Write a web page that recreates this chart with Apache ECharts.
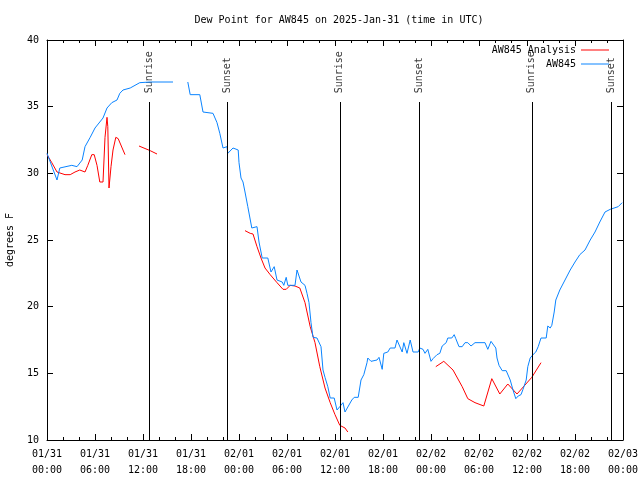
<!DOCTYPE html>
<html><head><meta charset="utf-8">
<script src="https://cdn.jsdelivr.net/npm/echarts@6/dist/echarts.min.js"></script>
<style>html,body{margin:0;padding:0;background:#fff}#c{width:640px;height:480px}</style>
</head><body><div id="c"></div>
<script>
// ---- data (hours since 2025-01-31 00:00 UTC, dew point in degrees F) ----
const dayLabels = ['01/31','02/01','02/02','02/03'];
const awHours = [0.0,1.25,1.6,3.1,3.75,4.4,4.75,5.4,6.0,7.0,7.5,8.1,8.75,9.1,9.5,10.4,11.6,12.9,15.75,16.6,
17.6,17.9,19.1,19.5,20.75,21.25,21.6,22.0,22.5,22.6,23.25,23.9,24.0,24.25,24.5,24.75,25.1,25.6,26.25,26.5,
26.9,27.6,28.0,28.4,28.75,29.4,29.6,29.9,30.1,31.0,31.25,31.4,31.75,32.25,32.5,32.75,33.0,33.25,33.75,34.0,
34.25,34.5,34.75,35.1,35.4,35.9,36.25,36.6,37.0,37.25,37.5,38.1,38.4,38.9,39.25,39.6,40.0,40.1,40.5,41.25,
41.5,41.9,42.1,42.6,42.9,43.5,43.75,44.0,44.4,44.6,45.0,45.4,45.75,46.4,46.6,47.0,47.25,47.6,48.0,48.25,
48.75,49.1,49.4,49.9,50.1,50.6,50.9,51.1,51.5,51.9,52.25,52.6,53.0,53.25,53.5,54.75,55.1,55.5,55.75,56.1,
56.25,56.5,56.9,57.4,57.9,58.25,58.6,58.9,59.25,59.5,59.9,60.1,60.4,60.75,61.1,61.4,61.75,62.4,62.6,62.9,
63.1,63.4,63.6,64.1,64.75,65.4,66.0,66.6,67.25,67.9,68.5,69.1,69.75,70.4,71.4,71.9];
const awDew = [31.5,29.5,30.4,30.6,30.5,31.0,32.0,32.7,33.4,34.15,34.9,35.3,35.5,36.0,36.25,36.4,36.8,36.85,36.85,null,
36.85,35.9,35.9,34.6,34.5,33.8,33.0,31.9,32.0,31.5,31.9,31.75,30.8,29.65,29.35,28.6,27.5,25.9,26.0,24.85,
23.65,23.65,22.6,23.0,22.0,21.85,21.6,22.2,21.6,21.6,22.75,22.75,21.85,21.6,21.0,20.3,18.8,17.7,17.65,17.7,
17.0,15.25,14.7,14.0,13.15,13.15,12.25,12.5,12.8,12.1,12.25,13.0,13.2,13.2,14.5,14.9,15.8,16.15,15.9,16.0,
16.2,15.3,16.5,16.6,16.9,16.9,17.5,17.35,16.6,17.3,16.5,17.5,16.6,16.6,16.9,16.8,16.5,16.8,15.9,16.1,
16.4,16.5,17.05,17.3,17.65,17.65,17.9,17.6,17.0,17.0,17.3,17.3,17.05,17.1,17.3,17.3,16.8,17.4,17.35,16.9,
16.15,15.6,15.2,15.2,14.5,13.75,13.1,13.3,13.4,13.8,14.5,15.5,16.15,16.4,16.6,17.0,17.65,17.65,18.55,18.4,
18.6,19.6,20.5,21.25,22.0,22.75,23.35,23.9,24.25,25.0,25.6,26.35,27.1,27.3,27.5,27.8];
const anHours = [0.0,0.6,1.25,2.25,2.9,3.5,4.1,4.75,5.1,5.6,5.9,6.25,6.6,7.0,7.25,7.5,7.6,7.75,8.0,8.25,8.6,8.9,9.5,9.75,10.5,
11.5,12.9,13.75,19,
24.75,25.4,25.75,26.25,26.75,27.25,27.9,28.75,29.5,29.9,30.4,31.0,31.6,32.25,32.9,33.5,34.1,34.75,35.4,36.0,36.6,37.25,37.6,43,
48.6,49.6,50.75,51.9,52.6,53.5,54.6,55.6,56.6,57.6,58.75,60.6,61.75];
const anDew = [31.4,30.8,30.1,29.9,29.9,30.1,30.25,30.1,30.6,31.4,31.4,30.6,29.35,29.35,32.7,34.2,33.5,28.9,30.5,31.75,32.7,32.6,31.75,31.4,null,
32.05,31.7,31.45,null,
25.7,25.5,25.45,24.5,23.65,22.9,22.4,21.8,21.3,21.3,21.6,21.55,21.4,20.3,18.5,17.3,15.5,13.9,12.8,11.9,11.1,10.9,10.6,null,
15.5,15.9,15.25,14.0,13.1,12.8,12.55,14.6,13.45,14.2,13.45,14.7,15.8];
const sunHours = [12.75,22.5,36.6,46.55,60.6,70.5];
const sunNames = ['Sunrise','Sunset','Sunrise','Sunset','Sunrise','Sunset'];

const FONT = 'DejaVu Sans Mono';
const zip = (a,b) => a.map((x,i) => [x, b[i]]);
const lineTop = 35.35, labelBase = 36.0;

const chart = echarts.init(document.getElementById('c'), null, {renderer:'canvas'});
const axisCommon = {
  axisLine:{show:true, onZero:false, lineStyle:{color:'#000', width:1}},
  splitLine:{show:false}
};
chart.setOption({
  animation:false,
  backgroundColor:'#fff',
  textStyle:{fontFamily:FONT},
  title:{text:'Dew Point for AW845 on 2025-Jan-31 (time in UTC)', left:334, top:10, textAlign:'center',
    textStyle:{fontFamily:FONT, fontSize:10, fontWeight:'normal', color:'#000'}},
  grid:{left:47, right:17, top:40, bottom:40, containLabel:false, outerBoundsMode:'none'},
  legend:[
    {data:['AW845 Analysis'], right:26, top:40, orient:'vertical', align:'right', icon:'rect', itemWidth:28, itemHeight:1,
      textStyle:{fontFamily:FONT, fontSize:10, color:'#000'}},
    {data:['AW845'], right:26, top:54, orient:'vertical', align:'right', icon:'rect', itemWidth:28, itemHeight:1,
      textStyle:{fontFamily:FONT, fontSize:10, color:'#000'}}
  ],
  xAxis:[
    Object.assign({type:'value', min:0, max:72, interval:6, position:'bottom',
      axisTick:{show:true, inside:true, length:6, lineStyle:{color:'#000'}},
      minorTick:{show:true, splitNumber:3, length:3, lineStyle:{color:'#000'}},
      axisLabel:{show:true, margin:6, color:'#000', fontFamily:FONT, fontSize:10, lineHeight:16,
        formatter:v => { const d = Math.floor(v/24), h = v%24; return dayLabels[d] + '\n' + String(h).padStart(2,'0') + ':00'; }}
    }, axisCommon),
    Object.assign({type:'value', min:0, max:72, interval:6, position:'top',
      axisTick:{show:true, inside:true, length:6, lineStyle:{color:'#000'}},
      minorTick:{show:true, splitNumber:3, length:3, lineStyle:{color:'#000'}},
      axisLabel:{show:false}}, axisCommon)
  ],
  yAxis:[
    Object.assign({type:'value', min:10, max:40, interval:5, position:'left',
      name:'degrees F', nameLocation:'middle', nameGap:32, nameRotate:90,
      nameTextStyle:{fontFamily:FONT, fontSize:10, color:'#000'},
      axisTick:{show:true, inside:true, length:6, lineStyle:{color:'#000'}},
      axisLabel:{show:true, margin:8, color:'#000', fontFamily:FONT, fontSize:10}}, axisCommon),
    Object.assign({type:'value', min:10, max:40, interval:5, position:'right',
      axisTick:{show:true, inside:true, length:6, lineStyle:{color:'#000'}},
      axisLabel:{show:false}}, axisCommon)
  ],
  series:[
    {name:'sun', type:'scatter', data:sunHours.map((h,i)=>({value:[h,labelBase], name:sunNames[i]})),
      symbolSize:0, silent:true,
      label:{show:true, position:'inside', rotate:90, align:'left', verticalAlign:'middle',
        formatter:p=>p.name, fontFamily:FONT, fontSize:10, color:'#000'},
      markLine:{silent:true, symbol:'none', label:{show:false}, lineStyle:{color:'#000', width:1, type:'solid'},
        data:sunHours.map(h=>[{coord:[h,10]},{coord:[h,lineTop]}])}
    },
    {name:'AW845 Analysis', type:'line', data:zip(anHours, anDew), showSymbol:false, connectNulls:false,
      lineStyle:{color:'#ff0000', width:1}, itemStyle:{color:'#ff0000'}},
    {name:'AW845', type:'line', data:zip(awHours, awDew), showSymbol:false, connectNulls:false,
      lineStyle:{color:'#0a84ff', width:1}, itemStyle:{color:'#0a84ff'}}
  ]
});
</script></body></html>
